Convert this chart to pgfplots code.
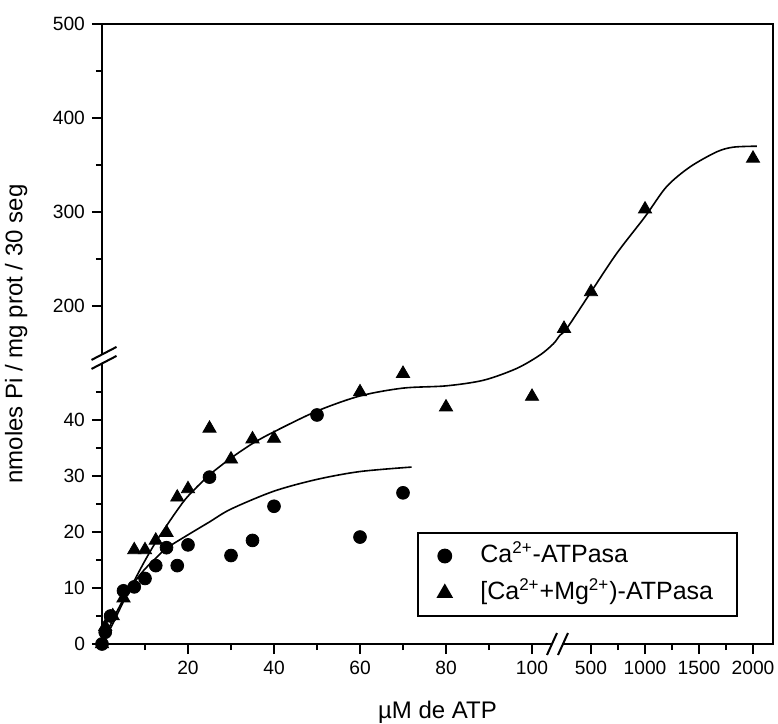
\documentclass[border=0pt]{standalone}
\usepackage{fontspec}
\setmainfont{Liberation Sans}
\usepackage{pgfplots}
\pgfplotsset{compat=1.18}
\usepackage{pgfplotstable}
\newcommand\sups[1]{\textsuperscript{\fontsize{8.5}{9}\selectfont #1}}

\pgfplotstableread{
x y
0 0
0.75 2.1
2 5.0
5 9.5
7.5 10.2
10 11.7
12.5 14.0
15 17.2
17.5 14.0
20 17.7
25 29.8
30 15.8
35 18.5
40 24.6
50 40.9
60 19.1
70 27.0
}\caData

\pgfplotstableread{
x y
0 0
0.75 3.1
2.5 5.0
5 8.2
7.5 16.8
10 16.8
12.5 18.5
15 19.9
17.5 26.2
20 27.7
25 38.5
30 33.0
35 36.6
40 36.7
60 45.0
70 48.3
80 42.3
100 44.2
250 176
500 215
1000 303
2000 357
}\camgData

\pgfplotstableread{
x y
0 0
2 3.5
5 8.0
8 11.5
10 13.4
12.5 15.3
15 17.1
20 19.5
25 21.8
30 24.1
40 27.3
50 29.4
60 30.8
72 31.6
}\caFit

\pgfplotstableread{
x y
0 0
2.5 3.6
5 7.6
7.5 11.3
10 14.9
12.5 18.2
15 21.1
17.5 23.9
20 26.4
25 30.2
30 33.2
35 35.8
40 37.9
50 41.6
60 44.3
70 45.7
80 46.1
88.7 47.1
96.4 49.2
101.9 148
105 160
213 169
275 176
500 215
738 256
1000 295
1200 327
1417 348
1664 364
1819 369
2035 370
}\camgFit

\begin{document}
\begin{tikzpicture}
\begin{axis}[
  scale only axis, width=335.5pt, height=310pt,
  x coord trafo/.code={\pgfmathparse{(#1<=106)?#1:max(106,113.72+(#1-500)*0.025116)}},
  y coord trafo/.code={\pgfmathparse{(#1<=51)?#1:max(51,60.36+(#1-200)*0.1679)}},
  xmin=0, xmax=2185, ymin=0, ymax=500,
  xtick={20,40,60,80,100,500,1000,1500,2000},
  xticklabels={20,40,60,80,100,500,1000,1500,2000},
  minor xtick={10,30,50,70,90,750,1250,1750},
  ytick={0,10,20,30,40,200,300,400,500},
  yticklabels={0,10,20,30,40,200,300,400,500},
  minor ytick={5,15,25,35,45,250,350,450},
  tick align=outside, tick pos=left,
  major tick length=5pt, minor tick length=3pt,
  tick style={black, line width=0.9pt},
  axis line style={line width=1.1pt},
  tick label style={font=\fontsize{9.6}{11}\selectfont},
  xlabel={µM de ATP}, ylabel={nmoles Pi / mg prot / 30 seg},
  label style={font=\fontsize{12}{14}\selectfont},
  xlabel style={at={(axis description cs:0.5,0)}, anchor=base, yshift=-37pt},
  ylabel style={at={(axis description cs:-0.128,0.5)}, anchor=center},
  clip=false,
  legend style={at={(rel axis cs:0.948,0.0435)}, anchor=south east, draw=black,
    line width=1pt, font=\fontsize{12.5}{14}\selectfont, cells={anchor=west},
    inner xsep=10pt, inner ysep=5.5pt, row sep=6.5pt,
    nodes={inner ysep=0pt, text height=9pt, text depth=3pt}},
]
\addplot[only marks, mark=*, mark size=3.2pt, black] table[x=x,y=y]{\caData};
\addlegendentry{\hspace{12.5pt}Ca\sups{2+}-ATPasa}
\addplot[only marks, mark=triangle*, mark size=3.8pt, black] table[x=x,y=y]{\camgData};
\addlegendentry{\hspace{12.5pt}[Ca\sups{2+}+Mg\sups{2+})-ATPasa\hspace{1pt}}
\addplot[smooth, line width=0.8pt, black, forget plot] table[x=x,y=y]{\caFit};
\addplot[smooth, line width=0.8pt, black, forget plot] table[x=x,y=y]{\camgFit};
\coordinate (yb) at (rel axis cs:0,0.4597);
\coordinate (xb) at (rel axis cs:0.6788,0);
\end{axis}
\fill[white] ([xshift=-1pt,yshift=-2.25pt]yb) rectangle ([xshift=1pt,yshift=2.25pt]yb);
\draw[line width=1pt] ([xshift=-5.25pt,yshift=-0.48pt]yb) -- ([xshift=7.25pt,yshift=6.02pt]yb);
\draw[line width=1pt] ([xshift=-5.25pt,yshift=-4.98pt]yb) -- ([xshift=7.25pt,yshift=1.52pt]yb);
\fill[white] ([xshift=-2.75pt,yshift=-1pt]xb) rectangle ([xshift=2.75pt,yshift=1pt]xb);
\draw[line width=1pt] ([xshift=-5.25pt,yshift=-5.5pt]xb) -- ([xshift=-0.25pt,yshift=5.5pt]xb);
\draw[line width=1pt] ([xshift=0.25pt,yshift=-5.5pt]xb) -- ([xshift=5.25pt,yshift=5.5pt]xb);
\pgfresetboundingbox
\path ([xshift=-51pt,yshift=-40pt]current axis.south west) rectangle ([xshift=338pt,yshift=322pt]current axis.south west);
\end{tikzpicture}
\end{document}
